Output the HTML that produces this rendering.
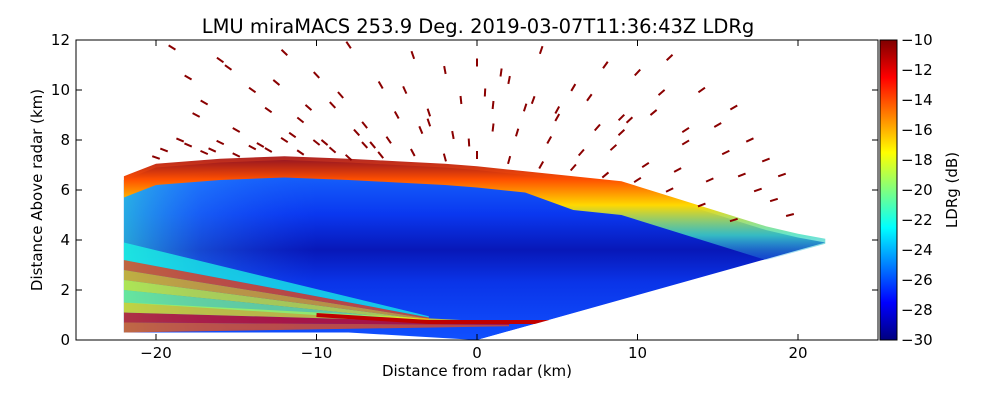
<!DOCTYPE html>
<html><head><meta charset="utf-8"><style>
body{margin:0;background:#fff;width:1000px;height:400px;overflow:hidden;font-family:"Liberation Sans",sans-serif}
svg text{font-family:"DejaVu Sans","Liberation Sans",sans-serif}
</style></head><body>
<svg id="chart" width="1000" height="400" viewBox="0 0 1000 400" xmlns="http://www.w3.org/2000/svg">
<defs>
<linearGradient id="jet" x1="0" y1="1" x2="0" y2="0">
<stop offset="0" stop-color="#00007f"/><stop offset="0.125" stop-color="#0000ff"/><stop offset="0.375" stop-color="#00ffff"/><stop offset="0.625" stop-color="#ffff00"/><stop offset="0.875" stop-color="#ff0000"/><stop offset="1" stop-color="#7f0000"/>
</linearGradient>
<linearGradient id="body" x1="0" y1="0" x2="0" y2="1">
<stop offset="0" stop-color="#1a70ff"/><stop offset="0.3" stop-color="#0a38f0"/><stop offset="0.5" stop-color="#0818b8"/><stop offset="0.68" stop-color="#0a34e8"/><stop offset="1" stop-color="#1050ff"/>
</linearGradient>
<linearGradient id="topband" x1="0" y1="0" x2="0" y2="1">
<stop offset="0" stop-color="#a00000" stop-opacity="0.85"/><stop offset="0.2" stop-color="#ff5000"/><stop offset="0.42" stop-color="#ffd800"/><stop offset="0.68" stop-color="#40e0c0" stop-opacity="0.8"/><stop offset="1" stop-color="#2080ff" stop-opacity="0"/>
</linearGradient>
<linearGradient id="leftfade" x1="0" y1="0" x2="1" y2="0">
<stop offset="0" stop-color="#30d0e0" stop-opacity="0.75"/><stop offset="0.4" stop-color="#30a0ff" stop-opacity="0.35"/><stop offset="1" stop-color="#2060ff" stop-opacity="0"/>
</linearGradient>
<clipPath id="plotclip"><rect x="76" y="40" width="802" height="300"/></clipPath>
</defs>
<text x="478" y="33" font-size="19.5" text-anchor="middle">LMU miraMACS 253.9 Deg. 2019-03-07T11:36:43Z  LDRg</text>
<g id="plot" clip-path="url(#plotclip)"></g>
<rect x="76" y="40" width="802" height="300" fill="none" stroke="#000" stroke-width="1"/>
<g id="axes"></g>
<text x="477" y="376" font-size="15" text-anchor="middle">Distance from radar (km)</text>
<text transform="translate(42,190) rotate(-90)" font-size="15" text-anchor="middle">Distance Above radar  (km)</text>
<rect x="880" y="40" width="17" height="300" fill="url(#jet)" stroke="#000" stroke-width="1"/>
<text transform="translate(957,190) rotate(-90)" font-size="15" text-anchor="middle">LDRg (dB)</text>
</svg>
<script>
const NS="http://www.w3.org/2000/svg";
const xTicks=[-20,-10,0,10,20];
const yTicks=[0,2,4,6,8,10,12];
const cbTicks=[-10,-12,-14,-16,-18,-20,-22,-24,-26,-28,-30];
// cloud top profile (km) and its height
const topX=[-22,-20,-16,-12,-8,-5,-2,0,3,6,9,12,15,18,20,21.7];
const topH=[6.4,6.9,7.1,7.2,7.1,7.0,6.9,6.8,6.6,6.4,6.2,5.6,5.0,4.4,4.1,3.9];
// low-level layer bands at left edge (km): bottom, top, LDR dB
const bandLo=[0.3,0.7,1.1,1.5,2.0,2.4,2.8,3.2];
const bandHi=[0.7,1.1,1.5,2.0,2.4,2.8,3.2,3.9];
const bandLdr=[-14,-12,-17,-20,-18,-16,-14,-22];
// speckle echoes above cloud: x km, height km
const speckX=[-19,-18,-17,-16,-15,-14,-13,-12,-11,-10,-9,-8,-7,-6,-5,-4,-3,-2,-1,0,1,2,3,4,5,6,7,8,9,10,11,12,13,14,15,16,17,18,19,-18.5,-16.5,-13.5,-11.5,-9.5,-7.5,-5.5,-3.5,-1.5,0.5,2.5,4.5,6.5,8.5,10.5,12.5,14.5,16.5,18.5,-17.5,-12.5,-8.5,-4.5,-0.5,3.5,7.5,11.5,15.5,19.5,-15.5,-6.5,1.5,9.5,17.5,-20,-19.5,-18,-17,-16,-15,-14,-13,-12,-11,-10,-9,-8,-7,-6,-4,-2,0,2,4,6,8,10,12,14,16,-10.5,-3,1,5,9,13];
const speckH=[11.7,10.5,9.5,11.2,8.4,10.0,9.2,11.5,8.8,10.6,9.4,11.8,8.6,10.2,9.0,11.4,8.7,10.8,9.6,11.1,8.5,10.4,9.3,11.6,8.9,10.1,9.7,11.0,8.3,10.7,9.1,11.3,7.9,10.0,8.6,9.3,8.0,7.2,6.6,8.0,7.6,7.8,8.2,7.9,8.3,8.0,8.4,8.2,9.9,8.3,8.0,7.5,7.7,7.0,6.8,6.4,6.6,5.6,9.0,10.3,9.8,10.0,7.9,9.6,8.5,9.9,7.5,5.0,10.9,7.8,10.7,8.8,6.0,7.3,7.6,7.8,7.5,7.9,7.4,7.7,7.6,8.0,7.5,7.9,7.6,7.3,7.8,7.4,7.5,7.3,7.4,7.2,7.0,6.9,6.6,6.4,6.0,5.4,4.8,9.3,9.1,9.4,9.2,8.9,8.4];
const speckLdr=speckX.map(()=>-10.5);

const X=k=>477+16.05*k, Y=h=>340-25*h;
const CB=v=>40+(v-(-10))/(-20)*300;
function jet(v){let t=Math.max(0,Math.min(1,(v+30)/20));
 const f=(a)=>Math.max(0,Math.min(1,1.5-Math.abs(4*t-a)));
 return `rgb(${Math.round(255*f(3))},${Math.round(255*f(2))},${Math.round(255*f(1))})`;}
function mk(tag,attrs,parent){const e=document.createElementNS(NS,tag);for(const k in attrs)e.setAttribute(k,attrs[k]);parent.appendChild(e);return e;}
const plot=document.getElementById('plot'), axes=document.getElementById('axes');

let pts=[[X(0),Y(0)]];
for(let i=topX.length-1;i>=0;i--)pts.push([X(topX[i]),Y(topH[i])]);
pts.push([X(-22),Y(0.3)]);pts.push([X(-8),Y(0.3)]);
const body=mk('polygon',{points:pts.map(p=>p.join(',')).join(' '),fill:'url(#body)'},plot);


const lf=mk('polygon',{points:`${X(-22)},${Y(6.4)} ${X(-10)},${Y(7.2)} ${X(-10)},${Y(0.5)} ${X(-22)},${Y(0.3)}`,fill:'url(#leftfade)'},plot);


let tp=[];for(let i=0;i<topX.length;i++)tp.push([X(topX[i]),Y(topH[i]+0.15)]);
for(let i=topX.length-1;i>=0;i--)tp.push([X(topX[i]),Y(topH[i]-(topX[i]>5?1.2:0.7))]);
const tb=mk('polygon',{points:tp.map(p=>p.join(',')).join(' '),fill:'url(#topband)'},plot);


for(let i=0;i<bandLo.length;i++){
 const endLo=0.55+i*0.05,endHi=0.6+i*0.05;
 const endX=i<3?2:-3;
 const p=mk('polygon',{points:`${X(-22)},${Y(bandLo[i])} ${X(-22)},${Y(bandHi[i])} ${X(endX)},${Y(endHi)} ${X(endX)},${Y(endLo)}`,fill:jet(bandLdr[i]),opacity:0.7},plot);
 
 
}
const ml=mk('polyline',{points:`${X(-10)},${Y(1.0)} ${X(-3)},${Y(0.72)} ${X(5)},${Y(0.72)}`,fill:'none',stroke:'#c00000','stroke-width':4},plot);


const bl=mk('polygon',{points:`${X(0)},${Y(0)} ${X(21.7)},${Y(3.85)} ${X(26)},${Y(3.85)} ${X(26)},${Y(-1)} ${X(0)},${Y(-1)}`,fill:'#fff'},plot);


for(let i=0;i<speckX.length;i++){
 const x=X(speckX[i]),y=Y(speckH[i]),a=Math.atan2(speckH[i],speckX[i]);
 const dx=Math.cos(a)*4,dy=-Math.sin(a)*4;
 const s=mk('line',{x1:x-dx,y1:y-dy,x2:x+dx,y2:y+dy,stroke:'#8a0000','stroke-width':2},plot);
 
 
}
xTicks.forEach(v=>{
 mk('line',{x1:X(v),y1:340,x2:X(v),y2:334,stroke:'#000'},axes);mk('line',{x1:X(v),y1:40,x2:X(v),y2:46,stroke:'#000'},axes);
 const t=mk('text',{x:X(v),y:358,'font-size':15,'text-anchor':'middle'},axes);t.textContent=(v<0?'\u2212':'')+Math.abs(v);
 
 
});
yTicks.forEach(v=>{
 mk('line',{x1:76,y1:Y(v),x2:82,y2:Y(v),stroke:'#000'},axes);mk('line',{x1:878,y1:Y(v),x2:872,y2:Y(v),stroke:'#000'},axes);
 const t=mk('text',{x:70,y:Y(v)+5,'font-size':15,'text-anchor':'end'},axes);t.textContent=v;
 
 
});
cbTicks.forEach(v=>{
 mk('line',{x1:897,y1:CB(v),x2:892,y2:CB(v),stroke:'#000'},axes);
 const t=mk('text',{x:901,y:CB(v)+5,'font-size':15},axes);t.textContent='\u2212'+Math.abs(v);
 
 
});
</script>
</body></html>
